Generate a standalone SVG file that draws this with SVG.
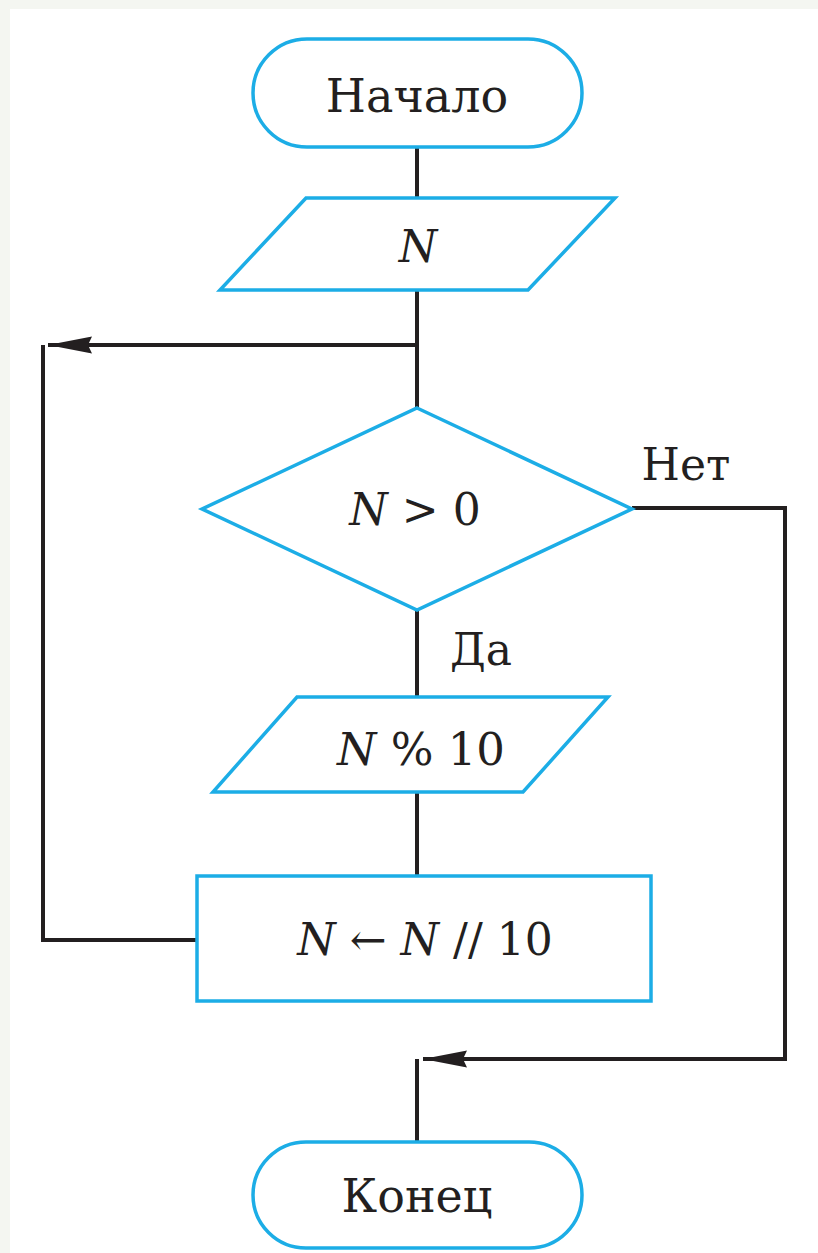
<svg xmlns="http://www.w3.org/2000/svg" width="818" height="1253" viewBox="0 0 818 1253">
<style>
.shape{fill:#ffffff;stroke:#1cade6;stroke-width:3.5}
.conn{fill:none;stroke:#231f20;stroke-width:4}
.t{font-family:"DejaVu Serif","Liberation Serif",serif;fill:#231f20;text-anchor:middle}
.i{font-style:italic}
</style>
<defs>
<marker id="arr" markerUnits="userSpaceOnUse" markerWidth="44" markerHeight="18" viewBox="0 0 44 18" refX="44" refY="9" orient="auto">
<path d="M0,0.5 L44,9 L0,17.5 L4,9 z" fill="#231f20"/>
</marker>
</defs>
<rect x="0" y="0" width="818" height="1253" fill="#f4f6f1"/>
<rect x="10" y="9" width="808" height="1244" fill="#ffffff"/>
<g id="connectors">
<path class="conn" d="M417 148 V198"/>
<path class="conn" d="M417 290 V408"/>
<path class="conn" d="M417 345 H48" marker-end="url(#arr)"/>
<path class="conn" d="M417 610 V697"/>
<path class="conn" d="M417 792 V876"/>
<path class="conn" d="M197 940 H43 V345"/>
<path class="conn" d="M632 508 H785 V1059 H423" marker-end="url(#arr)"/>
<path class="conn" d="M417 1059 V1142"/>
</g>
<g id="start">
<rect class="shape" x="253" y="39" width="329" height="108" rx="54" ry="54"/>
<text class="t" x="417" y="112" font-size="46">Начало</text>
</g>
<g id="input">
<polygon class="shape" points="306,198 615,198 528,290 220,290"/>
<text class="t i" x="418" y="262" font-size="44">N</text>
</g>
<g id="decision">
<polygon class="shape" points="417,408 632,509 417,610 202,509"/>
<text class="t" x="415" y="525" font-size="44"><tspan class="i">N</tspan> &gt; 0</text>
</g>
<g id="label-no">
<text class="t" x="686" y="480" font-size="44">Нет</text>
</g>
<g id="label-yes">
<text class="t" x="481" y="665" font-size="44">Да</text>
</g>
<g id="output">
<polygon class="shape" points="297,697 608,697 523,792 213,792"/>
<text class="t" x="421" y="765" font-size="45"><tspan class="i">N</tspan> % 10</text>
</g>
<g id="process">
<rect class="shape" x="197" y="876" width="454" height="125"/>
<text class="t" x="425" y="955" font-size="44"><tspan class="i">N</tspan> ← <tspan class="i">N</tspan> // 10</text>
</g>
<g id="end">
<rect class="shape" x="253" y="1142" width="329" height="106" rx="53" ry="53"/>
<text class="t" x="417" y="1212" font-size="46">Конец</text>
</g>
</svg>
